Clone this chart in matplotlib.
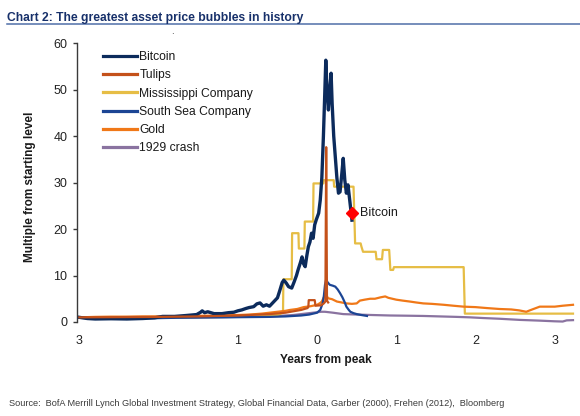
import matplotlib
matplotlib.use('Agg')
import matplotlib.pyplot as plt
from matplotlib import font_manager
from matplotlib.lines import Line2D

# years from peak (x) and multiple of starting level (y)
bitcoin_x = [-3.0, -2.9, -2.8, -2.6, -2.4, -2.2, -2.05, -1.95, -1.8, -1.65, -1.52, -1.47,
             -1.45, -1.42, -1.38, -1.3, -1.2, -1.12, -1.05, -1.0, -0.95, -0.9, -0.86,
             -0.8, -0.76, -0.72, -0.68, -0.64, -0.6, -0.55, -0.5, -0.47, -0.44, -0.42,
             -0.39, -0.36, -0.32, -0.29, -0.26, -0.24, -0.21, -0.19, -0.17, -0.15, -0.13,
             -0.11, -0.09, -0.07, -0.05, -0.03, -0.01, 0.02, 0.04, 0.06, 0.08, 0.095,
             0.11, 0.125, 0.143, 0.16, 0.177, 0.19, 0.21, 0.23, 0.25, 0.27, 0.29, 0.31,
             0.33, 0.35, 0.37, 0.39, 0.41, 0.43, 0.44]
bitcoin_y = [1.0, 0.75, 0.65, 0.7, 0.65, 0.75, 0.9, 1.2, 1.2, 1.4, 1.6, 2.1,
             2.4, 2.0, 2.2, 1.8, 1.8, 2.0, 2.1, 2.4, 2.6, 2.9, 3.1,
             3.3, 3.9, 4.1, 3.4, 3.7, 3.4, 4.3, 5.2, 6.8, 8.5, 9.0,
             8.4, 7.6, 7.3, 8.6, 10.0, 11.2, 12.8, 14.0, 12.5, 11.9, 14.2,
             16.2, 17.2, 19.1, 18.0, 20.9, 22.0, 23.4, 26.2, 31.0, 40.0, 48.0,
             56.3, 50.0, 45.6, 50.0, 53.5, 47.0, 40.0, 35.5, 31.0, 27.7, 28.0, 31.5,
             35.2, 30.5, 27.7, 29.5, 26.5, 23.5, 21.9]

tulips_x = [-3.0, -2.5, -2.0, -1.5, -1.0, -0.6, -0.4, -0.2, -0.12, -0.11, -0.105,
            -0.03, -0.02, 0.05, 0.085, 0.105, 0.115, 0.125, 0.14]
tulips_y = [1.0, 1.05, 1.1, 1.2, 1.4, 1.7, 2.0, 2.6, 3.0, 3.3, 4.7,
            4.7, 3.5, 3.6, 4.0, 4.4, 37.6, 4.6, 4.2]

mississippi_x = [-3.0, -2.0, -1.0, -0.75, -0.72, -0.5, -0.43, -0.425, -0.32, -0.315,
                 -0.235, -0.23, -0.16, -0.155, -0.05, -0.045, 0.08, 0.085, 0.21, 0.215,
                 0.46, 0.48, 0.55, 0.56, 0.58, 0.74, 0.75, 0.82, 0.83, 0.91, 0.925,
                 0.96, 0.97, 1.85, 1.865, 3.23]
mississippi_y = [1.0, 1.0, 1.1, 1.2, 1.4, 1.5, 2.0, 9.2, 9.2, 19.1,
                 19.1, 15.8, 15.8, 21.6, 21.6, 29.8, 29.8, 30.5, 30.5, 29.1,
                 29.1, 16.9, 16.9, 16.2, 15.1, 15.1, 13.5, 13.5, 15.5, 15.5, 11.2,
                 11.2, 11.8, 11.8, 1.8, 1.8]

south_sea_x = [-3.0, -2.7, -2.4, -2.1, -1.8, -1.5, -1.2, -0.9, -0.6, -0.4, -0.2, -0.1,
               0.0, 0.04, 0.07, 0.085, 0.1, 0.115, 0.13, 0.16, 0.2, 0.23, 0.26, 0.29,
               0.32, 0.35, 0.37, 0.4, 0.42, 0.46, 0.5, 0.56, 0.63]
south_sea_y = [0.9, 0.7, 0.75, 0.8, 0.9, 0.95, 1.0, 1.05, 1.1, 1.2, 1.4, 1.6,
               2.0, 2.6, 4.0, 5.5, 8.0, 9.2, 8.6, 8.0, 7.8, 7.6, 7.0, 6.2,
               5.3, 4.2, 3.3, 2.6, 2.2, 1.9, 1.7, 1.5, 1.3]

gold_x = [-3.0, -2.8, -2.6, -2.4, -2.2, -2.0, -1.8, -1.6, -1.4, -1.2, -1.0, -0.85,
          -0.7, -0.6, -0.5, -0.4, -0.34, -0.25, -0.17, -0.08, 0.0, 0.04, 0.06, 0.09,
          0.1, 0.12, 0.14, 0.19, 0.25, 0.31, 0.37, 0.44, 0.5, 0.54, 0.6, 0.67, 0.73,
          0.8, 0.86, 0.9, 0.95, 1.0, 1.08, 1.17, 1.25, 1.34, 1.45, 1.6, 1.72, 1.85,
          2.0, 2.14, 2.3, 2.45, 2.55, 2.64, 2.7, 2.81, 2.9, 3.0, 3.1, 3.23]
gold_y = [1.0, 1.1, 1.15, 1.15, 1.2, 1.2, 1.25, 1.3, 1.35, 1.4, 1.5, 1.6,
          1.8, 2.0, 2.2, 2.4, 2.6, 2.8, 3.2, 3.4, 3.7, 4.1, 4.4, 5.5,
          6.0, 5.6, 5.1, 4.9, 4.4, 4.2, 4.0, 3.9, 4.0, 4.6, 4.8, 5.0, 5.0,
          5.3, 5.5, 5.2, 5.0, 4.8, 4.6, 4.4, 4.2, 4.0, 3.9, 3.7, 3.5, 3.3,
          3.2, 3.0, 2.8, 2.7, 2.5, 2.2, 2.6, 3.3, 3.3, 3.3, 3.5, 3.7]

crash_x = [-3.0, -2.7, -2.4, -2.0, -1.6, -1.2, -0.8, -0.5, -0.3, -0.15, -0.05, 0.05,
           0.1, 0.2, 0.33, 0.5, 0.7, 0.92, 1.15, 1.34, 1.55, 1.76, 1.93, 2.1, 2.3,
           2.56, 2.8, 3.0, 3.1, 3.15, 3.23]
crash_y = [0.95, 0.8, 0.85, 0.95, 1.0, 1.05, 1.15, 1.3, 1.5, 1.8, 2.0, 2.2,
           2.2, 2.0, 1.7, 1.6, 1.5, 1.4, 1.35, 1.3, 1.2, 1.1, 1.0, 0.85, 0.7,
           0.45, 0.3, 0.15, 0.1, 0.35, 0.4]

bitcoin_now = (0.44, 23.5)

x_ticks = [-3, -2, -1, 0, 1, 2, 3]
x_tick_labels = ['3', '2', '1', '0', '1', '2', '3']
y_ticks = [0, 10, 20, 30, 40, 50, 60]

names = {f.name for f in font_manager.fontManager.ttflist}
NARROW = 'Liberation Sans Narrow' if 'Liberation Sans Narrow' in names else 'Liberation Sans'
plt.rcParams['font.family'] = ['Liberation Sans', 'DejaVu Sans']

W, H = 580, 416
fig = plt.figure(figsize=(W / 100, H / 100), dpi=100)
ax = fig.add_axes([77 / W, 1 - 322 / H, (573 - 77) / W, (322 - 43) / H])


def fpos(x, y):
    return x / W, 1 - y / H


series = [
    ('Bitcoin', bitcoin_x, bitcoin_y, '#0c2b5c', 2.4, 5),
    ('Tulips', tulips_x, tulips_y, '#c4511a', 1.6, 6),
    ('Mississippi Company', mississippi_x, mississippi_y, '#e6bd45', 1.6, 2),
    ('South Sea Company', south_sea_x, south_sea_y, '#1c4594', 1.6, 4),
    ('Gold', gold_x, gold_y, '#f07818', 1.6, 3),
    ('1929 crash', crash_x, crash_y, '#8a73a0', 1.6, 1),
]
handles = []
for label, xs, ys, color, lw, z in series:
    ln, = ax.plot(xs, ys, color=color, lw=lw, zorder=z, label=label,
                  solid_joinstyle='round', clip_on=False)
    handles.append(ln)

ax.plot([bitcoin_now[0]], [bitcoin_now[1]], marker='D', ms=6.5, color='#ff0000',
        ls='none', zorder=8)
ax.annotate('Bitcoin', bitcoin_now, xytext=(6, 0), textcoords='offset points',
            va='center', ha='left', fontsize=9, color='#1a1a1a', zorder=8)

ax.set_xlim(-3.03, 3.23)
ax.set_ylim(0, 60)
ax.set_xticks(x_ticks)
ax.set_xticklabels(x_tick_labels)
ax.set_yticks(y_ticks)
ax.tick_params(axis='x', length=0, pad=9, labelsize=9, labelcolor='#222222')
ax.tick_params(axis='y', direction='out', length=3, width=1, pad=4,
               labelsize=9, labelcolor='#222222', color='#3a3a3a')
for s in ['top', 'right', 'bottom']:
    ax.spines[s].set_visible(False)
ax.spines['left'].set_color('#3a3a3a')
ax.spines['left'].set_linewidth(1.0)

leg = ax.legend(handles, [h.get_label() for h in handles], loc='upper left',
                bbox_to_anchor=fpos(103, 51), bbox_transform=fig.transFigure,
                frameon=False, fontsize=8.7, handlelength=2.8, handletextpad=0.2,
                labelspacing=0.52, borderpad=0, borderaxespad=0)
for ln in leg.get_lines():
    ln.set_linewidth(2.3)
for t in leg.get_texts():
    t.set_color('#1a1a1a')

title = fig.text(*fpos(7, 21), 'Chart 2: The greatest asset price bubbles in history',
                 family=NARROW, fontweight='bold', color='#17306a', fontsize=10,
                 ha='left', va='baseline')
fig.add_artist(Line2D([7 / W, 1.0], [1 - 24 / H] * 2, color='#4f6fa8', lw=1.1))

xlab = fig.text(*fpos(326, 360), 'Years from peak', family=NARROW, fontweight='bold',
                fontsize=10, color='#1a1a1a', ha='center', va='center')
ylab = fig.text(*fpos(30, 187), 'Multiple from starting level', fontweight='bold',
                fontsize=9, color='#1a1a1a', ha='center', va='center', rotation=90)
src = fig.text(*fpos(9, 404), 'Source:  BofA Merrill Lynch Global Investment Strategy, '
               'Global Financial Data, Garber (2000), Frehen (2012),  Bloomberg',
               family=NARROW, fontsize=7, color='#3a3a3a', ha='left', va='center')
fig.text(*fpos(172, 31), '.', fontsize=7, color='#333333', ha='center', va='center')

# scale a few texts so their extent matches the reference
renderer = fig.canvas.get_renderer()
for t, target, vertical in [(title, 297, False), (xlab, 92, False),
                            (ylab, 150, True), (src, 490, False)]:
    bb = t.get_window_extent(renderer)
    cur = bb.height if vertical else bb.width
    t.set_fontsize(t.get_fontsize() * target / cur)

fig.savefig('out.png', dpi=100)
